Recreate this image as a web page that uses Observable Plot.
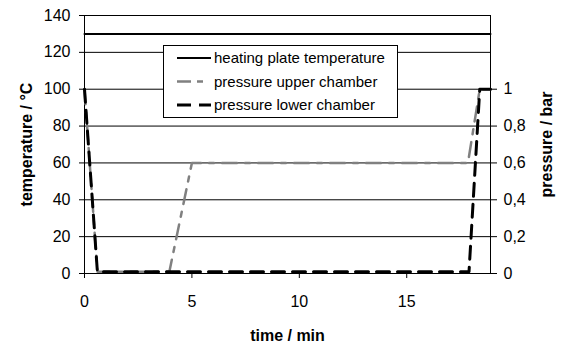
<!DOCTYPE html>
<html>
<head>
<meta charset="utf-8">
<script src="https://cdn.jsdelivr.net/npm/d3@7"></script>
<script src="https://cdn.jsdelivr.net/npm/@observablehq/plot@0.6"></script>
<style>
  html, body { margin: 0; padding: 0; background: #fff; }
  #chart { position: relative; width: 563px; height: 344px; }
</style>
</head>
<body>
<div id="chart"></div>
<script>
// ---- data ----
const seriesNames = ["heating plate temperature", "pressure upper chamber", "pressure lower chamber"];
const timePlate = [0, 18.9];
const tempPlate = [130, 130];
const timeUpper = [0, 0.6, 3.95, 5.0, 17.85, 18.4, 18.9];
const pressureUpper = [1, 0.01, 0.01, 0.6, 0.6, 1, 1];
const timeLower = [0, 0.6, 17.9, 18.4, 18.9];
const pressureLower = [1, 0.01, 0.01, 1, 1];
const xTicks = [0, 5, 10, 15];
const yTicksLeft = [0, 20, 40, 60, 80, 100, 120, 140];
const yTicksRight = [0, 0.2, 0.4, 0.6, 0.8, 1];
const gridValues = [20, 40, 60, 80, 100, 120];

// 1 bar corresponds to 100 °C on the shared vertical scale
const barToY = 100;

const plate = timePlate.map((t, i) => ({t, v: tempPlate[i]}));
const upper = timeUpper.map((t, i) => ({t, v: pressureUpper[i] * barToY}));
const lower = timeLower.map((t, i) => ({t, v: pressureLower[i] * barToY}));

const plot = Plot.plot({
  width: 563,
  height: 344,
  marginLeft: 84,
  marginRight: 73,
  marginTop: 15,
  marginBottom: 71,
  style: {fontFamily: "'Liberation Sans', Arial, sans-serif", fontSize: "16px", color: "#000", background: "#fff"},
  x: {domain: [0, 18.9]},
  y: {domain: [0, 140]},
  marks: [
    Plot.ruleY(gridValues, {stroke: "#000", strokeWidth: 1}),
    Plot.frame({stroke: "#000", strokeWidth: 1}),
    Plot.line(plate, {x: "t", y: "v", stroke: "#000", strokeWidth: 2}),
    Plot.line(upper, {x: "t", y: "v", stroke: "#808080", strokeWidth: 2.5, strokeDasharray: "15 8 5 8"}),
    Plot.line(lower, {x: "t", y: "v", stroke: "#000", strokeWidth: 3, strokeDasharray: "13 8"}),
    Plot.axisX(xTicks, {anchor: "bottom", tickSize: 5, tickPadding: 17, label: "time / min", labelArrow: "none", labelAnchor: "center", labelOffset: 67}),
    Plot.axisY(yTicksLeft, {anchor: "left", tickSize: 5, tickPadding: 9, label: "temperature / °C", labelArrow: "none", labelAnchor: "center", labelOffset: 64}),
    Plot.axisY(yTicksRight.map(v => v * barToY), {anchor: "right", tickSize: 6, tickPadding: 7,
      tickFormat: d => String(Math.round(d) / barToY).replace(".", ","),
      label: "pressure / bar", labelArrow: "none", labelAnchor: "center", labelOffset: 61})
  ]
});

const svg = d3.select(plot);
svg.selectAll('[aria-label$="axis label"] text, [aria-label$="axis label"]').style("font-weight", "bold");
svg.selectAll('[aria-label$="tick"]').attr("stroke", "#000");
// strip any arrow that an older Plot version may add to labels
svg.selectAll('[aria-label$="axis label"] text').each(function() {
  const t = d3.select(this);
  t.text(t.text().replace(/\s*[→←↑↓]\s*/g, "").trim());
});

// ---- legend (inside plot area, white box) ----
const lg = svg.append("g").attr("class", "legend").attr("text-anchor", "start");
lg.append("rect").attr("x", 163.5).attr("y", 45.5).attr("width", 234).attr("height", 72)
  .attr("fill", "#fff").attr("stroke", "#000").attr("stroke-width", 1);
const legendStyles = [
  {stroke: "#000", width: 2, dash: null},
  {stroke: "#808080", width: 2.5, dash: "14 6 6 8"},
  {stroke: "#000", width: 3, dash: "14 8"}
];
seriesNames.forEach((name, i) => {
  const y = 58 + i * 23.5;
  const s = legendStyles[i];
  const ln = lg.append("line").attr("x1", 177).attr("x2", 211).attr("y1", y).attr("y2", y)
    .attr("stroke", s.stroke).attr("stroke-width", s.width);
  if (s.dash) ln.attr("stroke-dasharray", s.dash);
  lg.append("text").attr("x", 214).attr("y", y).attr("dy", "0.35em")
    .attr("text-anchor", "start")
    .attr("font-size", 15).attr("fill", "#000").text(name);
});

document.getElementById("chart").appendChild(plot);
</script>
</body>
</html>
